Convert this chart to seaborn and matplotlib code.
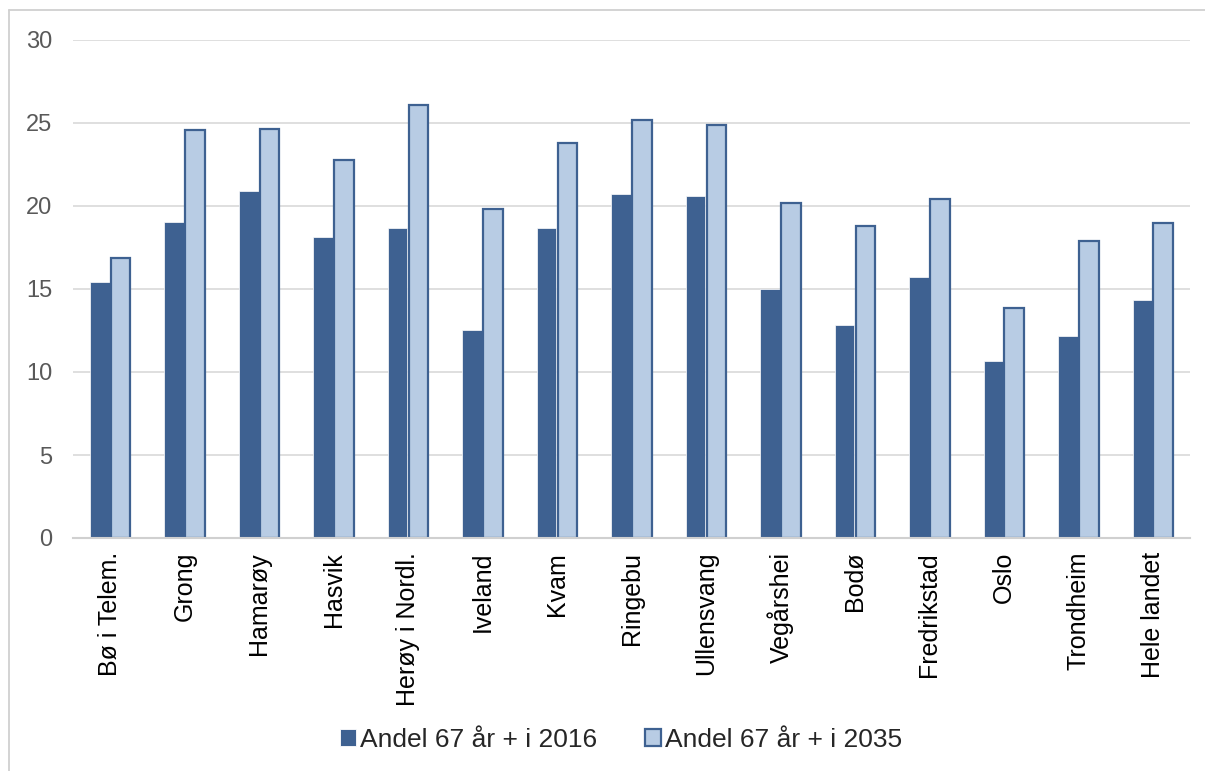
import matplotlib
matplotlib.use("Agg")
import matplotlib.pyplot as plt
import seaborn as sns
import pandas as pd
from matplotlib.patches import Rectangle
from matplotlib.lines import Line2D

categories = ["Bø i Telem.", "Grong", "Hamarøy", "Hasvik", "Herøy i Nordl.", "Iveland",
              "Kvam", "Ringebu", "Ullensvang", "Vegårshei", "Bodø", "Fredrikstad",
              "Oslo", "Trondheim", "Hele landet"]
andel_2016 = [15.4, 19.05, 20.9, 18.15, 18.65, 12.55, 18.7, 20.75, 20.6, 15.0, 12.85, 15.7, 10.65, 12.15, 14.35]
andel_2035 = [16.85, 24.55, 24.65, 22.75, 26.1, 19.8, 23.8, 25.2, 24.9, 20.2, 18.8, 20.4, 13.85, 17.9, 18.95]
series_names = ["Andel 67 år + i 2016", "Andel 67 år + i 2035"]
yticks = [0, 5, 10, 15, 20, 25, 30]

sns.set_theme(style="white")
plt.rcParams["font.family"] = ["Liberation Sans", "DejaVu Sans"]

df = pd.DataFrame({
    "kommune": categories * 2,
    "verdi": andel_2016 + andel_2035,
    "serie": [series_names[0]] * len(categories) + [series_names[1]] * len(categories),
})

dark = "#3E6191"
light = "#B8CCE4"

W, H = 1205, 771
fig = plt.figure(figsize=(W / 100, H / 100), dpi=100)
ax = fig.add_axes([73 / W, 1 - 538 / H, (1190 - 73) / W, (538 - 40) / H])

sns.barplot(data=df, x="kommune", y="verdi", hue="serie", palette=[dark, light],
            width=0.56, gap=0.06, ax=ax, legend=False, saturation=1)

for cont, ec, lw in zip(ax.containers, ["white", dark], [0.5, 1.6]):
    for bar in cont:
        bar.set_edgecolor(ec)
        bar.set_linewidth(lw)

ax.set_ylim(0, 30)
ax.set_xlim(-0.5, len(categories) - 0.5)
ax.set_yticks(yticks)
ax.set_yticklabels([str(t) for t in yticks], fontsize=17, color="#595959")
ax.set_xticks(range(len(categories)))
ax.set_xticklabels(categories, rotation=90, fontsize=18, color="black", va="top", ha="center")
ax.tick_params(axis="y", length=0, pad=15)
ax.tick_params(axis="x", length=0, pad=10)
ax.yaxis.grid(True, color="#D9D9D9", linewidth=1.2)
ax.set_axisbelow(True)
for s in ["top", "right", "left"]:
    ax.spines[s].set_visible(False)
ax.spines["bottom"].set_color("#D0D0D0")
ax.spines["bottom"].set_linewidth(1.5)
ax.set_xlabel("")
ax.set_ylabel("")

handles = [Rectangle((0, 0), 1, 1, facecolor=dark, edgecolor="white", linewidth=0.6),
           Rectangle((0, 0), 1, 1, facecolor=light, edgecolor=dark, linewidth=1.6)]
fig.legend(handles, series_names, loc="center", bbox_to_anchor=(621 / W, 1 - 740 / H),
           ncol=2, frameon=False, fontsize=19, handlelength=0.6, handleheight=0.6,
           handletextpad=0.15, columnspacing=1.8)

# chart-area border (only top and left edges are visible in the crop)
fig.add_artist(Line2D([9 / W, 1], [1 - 10 / H, 1 - 10 / H], transform=fig.transFigure,
                      color="#D0D0D0", linewidth=1.3))
fig.add_artist(Line2D([9 / W, 9 / W], [0, 1 - 10 / H], transform=fig.transFigure,
                      color="#D0D0D0", linewidth=1.3))

fig.savefig("out.png", dpi=100)
